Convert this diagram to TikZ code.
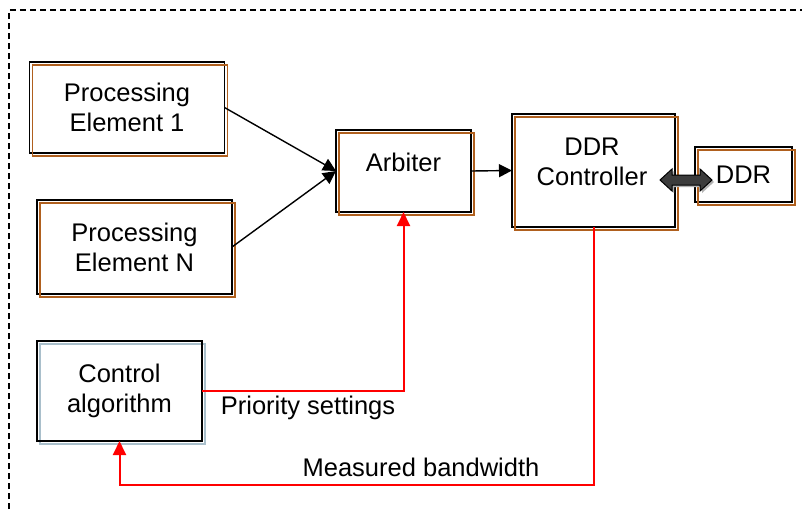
\documentclass[tikz,border=0pt]{standalone}
\usepackage{fontspec}
\setmainfont{Liberation Sans}
\usetikzlibrary{arrows.meta}

\definecolor{edgebrown}{HTML}{B0601E}
\definecolor{shadowblue}{HTML}{A9BFCB}
\definecolor{busgray}{HTML}{3C3C3C}

\tikzset{
  blockbox/.style={draw=black, line width=1.8pt, fill=white, outer sep=0pt,
    inner sep=0pt, align=center, font=\fontsize{25.5}{30}\selectfont},
  plaintext/.style={font=\fontsize{25.5}{30}\selectfont, inner sep=0pt, align=center},
  brownedge/.style={draw=edgebrown, line width=1.6pt},
  blueedge/.style={draw=shadowblue, line width=2pt},
  dataflow/.style={draw=black, line width=1.4pt, -{Triangle[width=13pt,length=13pt]}},
  ctrlflow/.style={draw=red, line width=2pt, -{Triangle[width=13pt,length=14pt]}},
  frameline/.style={draw=black, line width=1.5pt, dash pattern=on 6pt off 4pt},
  busarrow/.style={draw=black, line width=1pt, fill=busgray, line join=miter},
  busshadow/.style={fill=gray!60, draw=none},
}

\begin{document}
\begin{tikzpicture}[x=1pt, y=-1pt]
  \useasboundingbox (0,0) rectangle (802,509);

  % system boundary
  \draw[frameline] (9,509) -- (9,10) -- (802,10);

  % blocks
  \node[blockbox, minimum width=195, minimum height=91] (pe1) at (127,107.5) {Processing\\Element 1};
  \node[blockbox, minimum width=195, minimum height=94] (pen) at (134.5,247) {Processing\\Element N};
  \node[blockbox, minimum width=135, minimum height=82] (arb) at (403.5,171) {};
  \node[blockbox, minimum width=163, minimum height=113] (ctrl) at (593.5,170.5) {};
  \node[blockbox, minimum width=97, minimum height=55] (ddr) at (743.5,174.5) {DDR};
  \node[blockbox, minimum width=165, minimum height=100] (alg) at (119.5,391) {Control\\algorithm};

  % block captions set above centre
  \node[plaintext] (arbtext) at (403.5,162) {Arbiter};
  \node[plaintext] (ctrltext) at (592,162) {DDR\\Controller};

  % offset outlines behind each block
  \foreach \n in {pe1,pen,arb,ctrl,ddr}
    \draw[brownedge] ([shift={(3,3)}]\n.north west) rectangle ([shift={(3,3)}]\n.south east);
  \draw[blueedge] ([shift={(3,3)}]alg.north west) rectangle ([shift={(3,3)}]alg.south east);
  \draw[black, line width=1.8pt] (alg.north west) rectangle (alg.south east);

  % data path
  \draw[dataflow] (pe1.east) -- (arb.west);
  \draw[dataflow] (pen.east) -- (arb.west);
  \draw[dataflow] (arb.east) -- (ctrl.west);

  % memory bus: fat two-headed arrow across the controller / DDR boundary
  \coordinate (bus) at (686,180);
  \foreach \dx/\dy/\sty in {2/2/busshadow, 0/0/busarrow}
    \path[\sty] ([shift={(\dx,\dy)}]bus)
      ++(-26,0) -- ++(12,-11) -- ++(0,6) -- ++(28,0) -- ++(0,-6)
      -- ++(12,11) -- ++(-12,11) -- ++(0,-6) -- ++(-28,0) -- ++(0,6) -- cycle;

  % control loop
  \coordinate (loopcorner) at (119.5,485);
  \draw[ctrlflow] (alg.east) -| (arb.south);
  \draw[ctrlflow] (ctrl.south) |- (loopcorner) -- (alg.south);

  % loop labels
  \node[plaintext] (prio) at (308,408) {Priority settings};
  \node[plaintext] (bw) at (421,467) {Measured bandwidth};
\end{tikzpicture}
\end{document}
